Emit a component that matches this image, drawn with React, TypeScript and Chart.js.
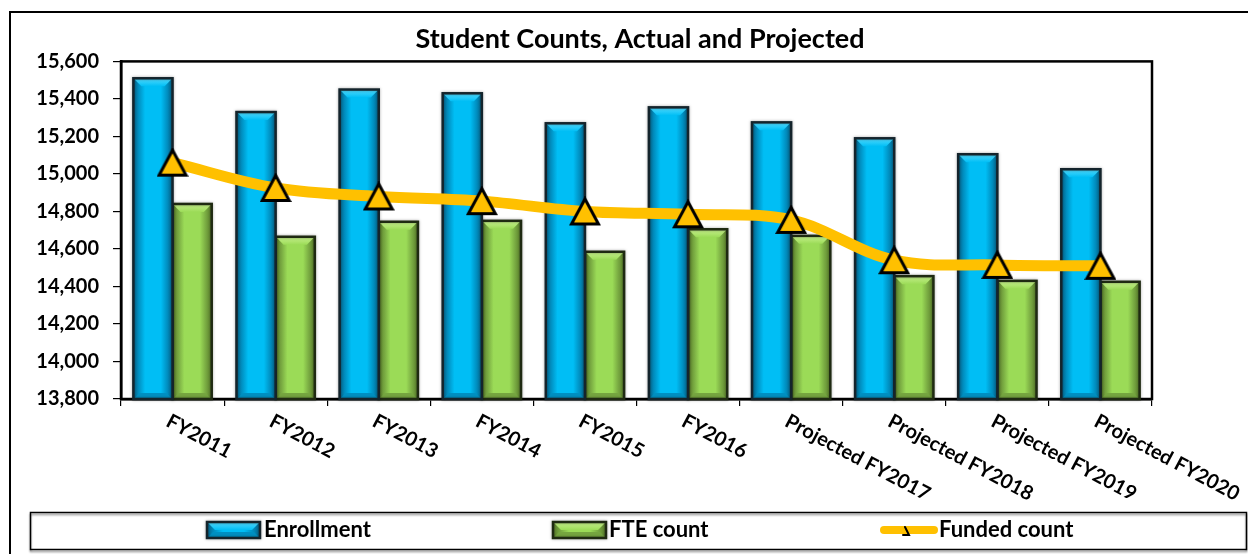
import React, { useEffect, useRef } from 'react';
import { Chart, registerables } from 'chart.js';

Chart.register(...registerables);

// ---- data ----
const categories = [
  'FY2011', 'FY2012', 'FY2013', 'FY2014', 'FY2015', 'FY2016',
  'Projected FY2017', 'Projected FY2018', 'Projected FY2019', 'Projected FY2020',
];
const enrollment = [15510, 15330, 15450, 15430, 15270, 15355, 15275, 15190, 15105, 15025];
const fteCount = [14840, 14665, 14745, 14750, 14585, 14705, 14670, 14455, 14430, 14425];
const fundedCount = [15060, 14925, 14880, 14855, 14800, 14785, 14755, 14540, 14515, 14510];
const seriesNames = ['Enrollment', 'FTE count', 'Funded count'];
const chartTitle = 'Student Counts, Actual and Projected';
const yMin = 13800;
const yMax = 15600;
const yStep = 200;

const FONT = 'Lato, "Noto Sans", "DejaVu Sans", sans-serif';

type Pal = { edge: string; mid: string; light: string; dark: string; border: string };
const BLUE: Pal = { edge: '#06658c', mid: '#00bef5', light: '#55dcff', dark: '#0090c2', border: '#14242c' };
const GREEN: Pal = { edge: '#5b7f2c', mid: '#9bdb57', light: '#c9f28f', dark: '#76a640', border: '#1f2a12' };
const YELLOW = '#FFC000';

function makeTriangleMarker(): HTMLCanvasElement {
  const c = document.createElement('canvas');
  c.width = 32;
  c.height = 30;
  const g = c.getContext('2d') as CanvasRenderingContext2D;
  g.beginPath();
  g.moveTo(16, 2.5);
  g.lineTo(29.5, 27.5);
  g.lineTo(2.5, 27.5);
  g.closePath();
  g.fillStyle = YELLOW;
  g.fill();
  g.lineWidth = 3;
  g.lineJoin = 'miter';
  g.strokeStyle = '#000000';
  g.stroke();
  return c;
}

function drawBevel(ctx: CanvasRenderingContext2D, left: number, right: number, top: number, bottom: number, p: Pal) {
  const w = right - left;
  const h = bottom - top;
  if (w <= 0 || h <= 0) return;
  ctx.save();
  const g = ctx.createLinearGradient(left, 0, right, 0);
  g.addColorStop(0, p.edge);
  g.addColorStop(0.14, p.dark);
  g.addColorStop(0.3, p.mid);
  g.addColorStop(0.7, p.mid);
  g.addColorStop(0.86, p.dark);
  g.addColorStop(1, p.edge);
  ctx.fillStyle = g;
  ctx.fillRect(left, top, w, h);
  const b = Math.min(8, h / 2, w / 3);
  ctx.beginPath();
  ctx.moveTo(left, top);
  ctx.lineTo(right, top);
  ctx.lineTo(right - b, top + b);
  ctx.lineTo(left + b, top + b);
  ctx.closePath();
  const gt = ctx.createLinearGradient(0, top, 0, top + b);
  gt.addColorStop(0, p.light);
  gt.addColorStop(1, p.mid);
  ctx.fillStyle = gt;
  ctx.fill();
  const bb = Math.min(6, h / 2);
  ctx.beginPath();
  ctx.moveTo(left, bottom);
  ctx.lineTo(right, bottom);
  ctx.lineTo(right - bb, bottom - bb);
  ctx.lineTo(left + bb, bottom - bb);
  ctx.closePath();
  ctx.fillStyle = p.dark;
  ctx.fill();
  ctx.strokeStyle = p.border;
  ctx.lineWidth = 2.5;
  ctx.shadowColor = 'rgba(0,0,0,0.35)';
  ctx.shadowBlur = 3;
  ctx.strokeRect(left, top, w, h);
  ctx.restore();
}

const decorPlugin = {
  id: 'decor',
  beforeDraw(chart: any) {
    const { ctx, width, height } = chart;
    ctx.save();
    ctx.fillStyle = '#ffffff';
    ctx.fillRect(0, 0, width, height);
    ctx.strokeStyle = '#000000';
    ctx.lineWidth = 2;
    ctx.beginPath();
    ctx.moveTo(10, height + 2);
    ctx.lineTo(10, 12);
    ctx.lineTo(width + 2, 12);
    ctx.stroke();
    ctx.restore();
  },
  beforeDatasetsDraw(chart: any) {
    const { ctx, chartArea: a } = chart;
    ctx.save();
    ctx.strokeStyle = '#000000';
    ctx.lineWidth = 2.5;
    ctx.strokeRect(a.left, a.top, a.right - a.left, a.bottom - a.top);
    ctx.restore();
  },
  afterDatasetDraw(chart: any, args: any) {
    const meta = args.meta;
    if (meta.type !== 'bar') return;
    const pal = args.index === 0 ? BLUE : GREEN;
    const ctx = chart.ctx;
    const a = chart.chartArea;
    meta.data.forEach((el: any) => {
      const { x, y, base, width } = el.getProps(['x', 'y', 'base', 'width'], true);
      const top = Math.max(Math.min(y, base), a.top);
      const bottom = Math.min(Math.max(y, base), a.bottom);
      drawBevel(ctx, x - width / 2, x + width / 2, top, bottom, pal);
    });
  },
  afterDraw(chart: any) {
    const { ctx, chartArea: a } = chart;
    const xs = chart.scales.x;
    ctx.save();
    ctx.fillStyle = '#000000';
    ctx.font = `bold 20px ${FONT}`;
    ctx.textAlign = 'left';
    ctx.textBaseline = 'top';
    const ang = (28 * Math.PI) / 180;
    chart.data.labels.forEach((lab: string, i: number) => {
      const px = xs.getPixelForTick(i);
      ctx.save();
      ctx.translate(px, a.bottom + 12);
      ctx.rotate(ang);
      ctx.fillText(lab, 0, 0);
      ctx.restore();
    });
    ctx.restore();

    ctx.save();
    ctx.strokeStyle = '#000000';
    ctx.lineWidth = 1.5;
    ctx.shadowColor = 'rgba(0,0,0,0.45)';
    ctx.shadowOffsetY = 2;
    ctx.shadowBlur = 2;
    ctx.strokeRect(30.5, 512.5, 1216, 37);
    ctx.restore();

    const items = [
      { kind: 'bar', pal: BLUE, sx: 207, tx: 264 },
      { kind: 'bar', pal: GREEN, sx: 553, tx: 609 },
      { kind: 'line', pal: null, sx: 880, tx: 939 },
    ];
    const cy = 530;
    ctx.save();
    items.forEach((it, i) => {
      if (it.kind === 'bar') {
        drawBevel(ctx, it.sx, it.sx + 53, cy - 8, cy + 8, it.pal as Pal);
      } else {
        ctx.save();
        ctx.strokeStyle = YELLOW;
        ctx.lineWidth = 8;
        ctx.lineCap = 'round';
        ctx.beginPath();
        ctx.moveTo(it.sx + 4, cy);
        ctx.lineTo(it.sx + 54, cy);
        ctx.stroke();
        ctx.strokeStyle = '#000000';
        ctx.lineWidth = 2;
        ctx.beginPath();
        ctx.moveTo(it.sx + 25, cy - 3);
        ctx.lineTo(it.sx + 29, cy + 5);
        ctx.lineTo(it.sx + 23, cy + 5);
        ctx.stroke();
        ctx.restore();
      }
      ctx.fillStyle = '#000000';
      ctx.font = `bold 22px ${FONT}`;
      ctx.textAlign = 'left';
      ctx.textBaseline = 'middle';
      ctx.fillText(chart.data.datasets[i].label, it.tx, cy);
    });
    ctx.restore();
  },
};

export default function App() {
  const ref = useRef<HTMLCanvasElement | null>(null);
  useEffect(() => {
    if (!ref.current) return;
    const marker = makeTriangleMarker();
    const chart = new Chart(ref.current, {
      type: 'bar',
      data: {
        labels: categories,
        datasets: [
          {
            type: 'bar',
            label: seriesNames[0],
            data: enrollment,
            backgroundColor: BLUE.mid,
            borderColor: BLUE.border,
            borderWidth: 2,
            categoryPercentage: 0.76,
            barPercentage: 1.0,
            order: 1,
          },
          {
            type: 'bar',
            label: seriesNames[1],
            data: fteCount,
            backgroundColor: GREEN.mid,
            borderColor: GREEN.border,
            borderWidth: 2,
            categoryPercentage: 0.76,
            barPercentage: 1.0,
            order: 1,
          },
          {
            type: 'line',
            label: seriesNames[2],
            data: fundedCount,
            borderColor: YELLOW,
            backgroundColor: YELLOW,
            borderWidth: 11,
            tension: 0.35,
            pointStyle: marker,
            pointRadius: 15,
            pointBorderWidth: 3,
            pointBorderColor: '#000000',
            pointBackgroundColor: YELLOW,
            order: 0,
          } as any,
        ],
      },
      options: {
        responsive: false,
        animation: false,
        events: [],
        layout: { padding: { left: 32, right: 0, top: 0, bottom: 148 } },
        plugins: {
          legend: { display: false },
          tooltip: { enabled: false },
          title: {
            display: true,
            text: chartTitle,
            color: '#000000',
            font: { family: FONT, size: 27, weight: 'bold' },
            padding: { top: 23, bottom: 6 },
          },
        },
        scales: {
          x: {
            offset: true,
            grid: { display: true, drawOnChartArea: false, drawTicks: true, tickLength: 7, color: '#000000', lineWidth: 1.2, offset: true },
            border: { display: true, color: '#000000', width: 2.5 },
            ticks: { display: false },
          },
          y: {
            min: yMin,
            max: yMax,
            grid: { display: true, drawOnChartArea: false, drawTicks: true, tickLength: 8, color: '#000000', lineWidth: 1.2 },
            border: { display: true, color: '#000000', width: 2.5 },
            ticks: {
              stepSize: yStep,
              padding: 14,
              color: '#000000',
              font: { family: FONT, size: 20, weight: 'bold' },
              callback: (v: any) => Number(v).toLocaleString('en-US'),
            },
            afterFit: (s: any) => {
              s.width = 89;
            },
          },
          yRightSpace: {
            type: 'linear',
            position: 'right',
            display: true,
            grid: { display: false, drawTicks: false },
            border: { display: false },
            ticks: { display: false },
            afterFit: (s: any) => {
              s.width = 96;
            },
          },
        },
      },
      plugins: [decorPlugin],
    });
    return () => chart.destroy();
  }, []);
  return (
    <div style={{ position: 'fixed', left: 0, top: 0, width: 1248, height: 554, background: '#fff' }}>
      <canvas ref={ref} width={1248} height={554} style={{ display: 'block', width: 1248, height: 554 }} />
    </div>
  );
}
